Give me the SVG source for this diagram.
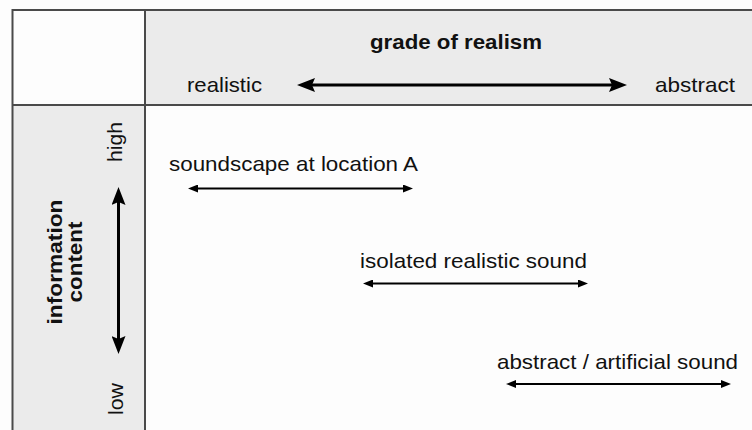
<svg xmlns="http://www.w3.org/2000/svg" width="752" height="430" viewBox="0 0 752 430">
  <defs>
    <marker id="bigHead" markerUnits="userSpaceOnUse" viewBox="0 0 18 14" markerWidth="18" markerHeight="14" refX="10" refY="7" orient="auto-start-reverse">
      <path d="M0,0 L18,7 L0,14 L3,7 z" fill="#000"/>
    </marker>
    <marker id="smallHead" markerUnits="userSpaceOnUse" viewBox="0 0 10 8" markerWidth="10" markerHeight="8" refX="5" refY="4" orient="auto-start-reverse">
      <path d="M0,0 L10,4 L0,8 z" fill="#000"/>
    </marker>
    <style>
      .frame { stroke: #4a4a4a; stroke-width: 2; fill: none; }
      .lbl { font-family: "Liberation Sans", Arial, sans-serif; font-size: 21px; fill: #111; }
      .bold { font-weight: bold; }
      .big { stroke: #000; stroke-width: 3; fill: none; marker-start: url(#bigHead); marker-end: url(#bigHead); }
      .small { stroke: #000; stroke-width: 2; fill: none; marker-start: url(#smallHead); marker-end: url(#smallHead); }
    </style>
  </defs>
  <rect x="0" y="0" width="752" height="430" fill="#fdfdfd"/>
  <g id="header">
    <rect x="145" y="10" width="607" height="95" fill="#ebebeb"/>
    <text class="lbl bold" x="456" y="49" text-anchor="middle" textLength="172" lengthAdjust="spacingAndGlyphs">grade of realism</text>
    <text class="lbl" x="187" y="92" textLength="75" lengthAdjust="spacingAndGlyphs">realistic</text>
    <text class="lbl" x="655" y="92" textLength="80" lengthAdjust="spacingAndGlyphs">abstract</text>
  </g>
  <g id="sidebar">
    <rect x="12" y="105" width="133" height="325" fill="#ebebeb"/>
    <text class="lbl" transform="translate(122,142) rotate(-90)" text-anchor="middle" textLength="40" lengthAdjust="spacingAndGlyphs">high</text>
    <text class="lbl" transform="translate(123,399) rotate(-90)" text-anchor="middle" textLength="32" lengthAdjust="spacingAndGlyphs">low</text>
    <text class="lbl bold" transform="translate(62,262) rotate(-90)" text-anchor="middle" textLength="125" lengthAdjust="spacingAndGlyphs">information</text>
    <text class="lbl bold" transform="translate(82,262) rotate(-90)" text-anchor="middle" textLength="81" lengthAdjust="spacingAndGlyphs">content</text>
  </g>
  <g id="frame">
    <line class="frame" x1="12" y1="10" x2="752" y2="10"/>
    <line class="frame" x1="12" y1="105" x2="752" y2="105"/>
    <line class="frame" x1="12.5" y1="9" x2="12.5" y2="430"/>
    <line class="frame" x1="145" y1="9" x2="145" y2="430"/>
  </g>
  <g id="node-soundscape">
    <text class="lbl" x="169" y="171" textLength="249" lengthAdjust="spacingAndGlyphs">soundscape at location A</text>
  </g>
  <g id="node-isolated">
    <text class="lbl" x="360" y="268" textLength="227" lengthAdjust="spacingAndGlyphs">isolated realistic sound</text>
  </g>
  <g id="node-abstract">
    <text class="lbl" x="497" y="369" textLength="241" lengthAdjust="spacingAndGlyphs">abstract / artificial sound</text>
  </g>
  <g id="connectors">
    <line class="big" x1="305" y1="85" x2="619" y2="85"/>
    <line class="big" x1="118.5" y1="195" x2="118.5" y2="346"/>
    <line class="small" x1="193" y1="188.5" x2="408" y2="188.5"/>
    <line class="small" x1="368" y1="283.5" x2="583" y2="283.5"/>
    <line class="small" x1="511" y1="384" x2="726" y2="384"/>
  </g>
</svg>
